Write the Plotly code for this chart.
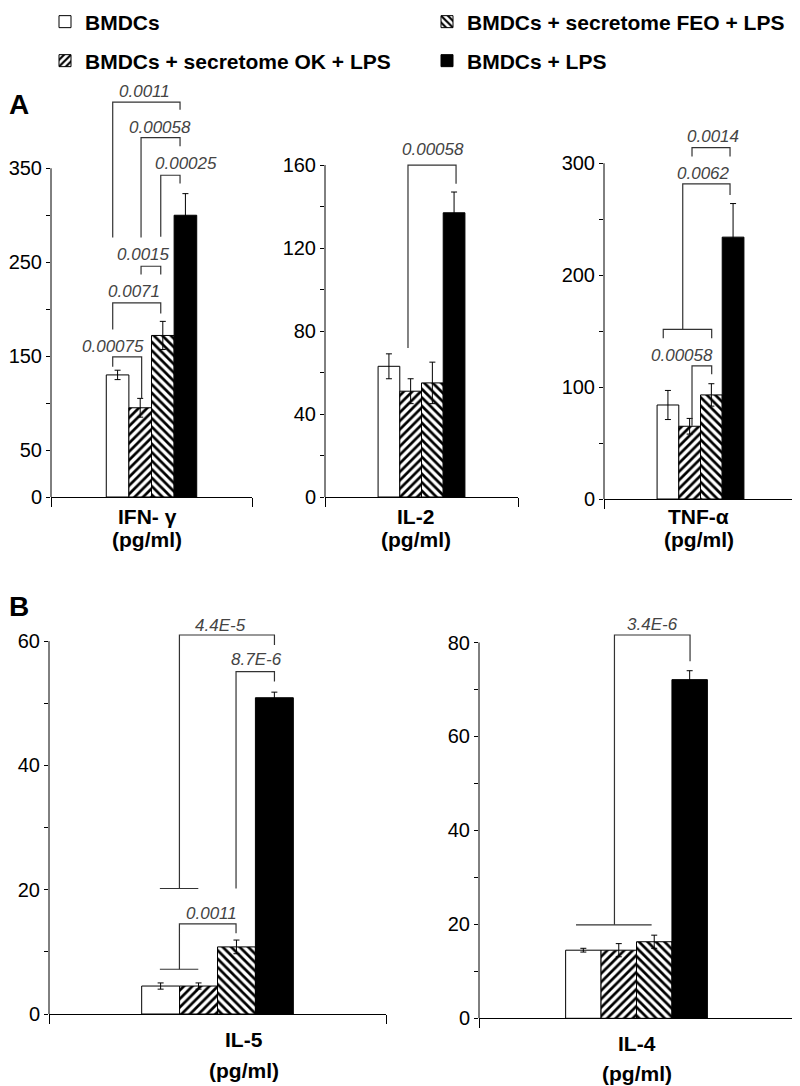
import plotly.graph_objects as go

# The page body has an 8px margin, so the figure is sized to fill the rest of the window
OFF = 8
W, H = 800 - OFF, 1086 - OFF
FONT = "Liberation Sans, Arial, sans-serif"

# ---------------- data ----------------
categories = ["IFN- γ", "IL-2", "TNF-α", "IL-5", "IL-4"]
unit_label = "(pg/ml)"
series_names = ["BMDCs", "BMDCs + secretome OK + LPS",
                "BMDCs + secretome FEO + LPS", "BMDCs + LPS"]
bmdcs = [130, 63, 84, 4.5, 14.5]
bmdcs_err = [5, 6, 13, 0.5, 0.4]
ok_lps = [95, 51, 65, 4.5, 14.5]
ok_err = [10, 6, 7, 0.5, 1.4]
feo_lps = [172, 55, 93, 10.8, 16.3]
feo_err = [15, 10, 10, 1.1, 1.4]
lps = [300, 137, 234, 50.9, 72.1]
lps_err = [23, 10, 30, 0.9, 1.9]

y_tick_step = [50, 20, 50, 10, 10]
y_tick_max = [350, 160, 300, 60, 80]
y_tick_labelled = [[0, 50, 150, 250, 350], [0, 40, 80, 120, 160],
                   [0, 100, 200, 300], [0, 20, 40, 60], [0, 20, 40, 60, 80]]

# significance brackets: (x_left, x_right, y_left_end, y_right_end, y_top, p, label_x, label_y)
brackets = [
    [(-0.193, -0.049, 138.6, 105.0, 149.3, "0.00075", -0.194, 160.6),
     (-0.193, 0.046, 178.4, 195.4, 206.7, "0.0071", -0.089, 218.4),
     (-0.052, 0.046, 236.9, 236.9, 245.7, "0.0015", -0.039, 258.5),
     (0.046, 0.142, 277.0, 333.7, 342.6, "0.00025", 0.170, 355.0),
     (-0.052, 0.142, 276.3, 373.4, 382.7, "0.00058", 0.041, 392.9),
     (-0.193, 0.142, 276.3, 412.4, 420.5, "0.0011", -0.037, 432.2)],
    [(-0.070, 0.179, 71.8, 151.0, 160.0, "0.00058", 0.060, 167.7)],
    [(-0.044, 0.058, 65.5, 111.4, 118.9, "0.00058", -0.097, 128.4),
     (-0.092, 0.153, 151.6, 271.7, 281.5, "0.0062", 0.013, 290.5),
     (-0.044, 0.153, 306.0, 306.0, 314.0, "0.0014", 0.063, 323.8)],
    [(-0.113, 0.169, 20.2, 59.4, 61.0, "4.4E-5", 0.010, 62.6),
     (0.055, 0.169, 20.2, 53.5, 55.1, "8.7E-6", 0.117, 57.0),
     (-0.113, 0.055, 7.2, 13.0, 14.5, "0.0011", -0.019, 16.2)],
    [(-0.070, 0.170, 19.9, 76.0, 81.6, "3.4E-6", 0.052, 83.8)],
]
# pooled-group base lines: (x0, x1, y, end-drop)
group_lines = [
    [],
    [],
    [(-0.193, 0.058, 151.6, 8.0)],
    [(-0.171, -0.057, 20.2, 0.0), (-0.171, -0.057, 7.2, 0.0)],
    [(-0.192, 0.048, 19.9, 0.0)],
]

# ---------------- layout geometry (window pixels) ----------------
x_px = [(51, 252), (325, 518), (604, 797), (49, 386), (479, 794)]
y_px = [(80, 497), (80, 497), (80, 499), (612, 1014), (612, 1018.3)]
y_range_max = [444, 201, 374.4, 64.7, 86.5]
label_x = [-0.022, -0.03, -0.008, 0.08, 0.0]
label_y_px = [(516, 540), (516, 540), (516, 540), (1039, 1070), (1043, 1073)]


def px_x(p):
    return (p - OFF) / W


def px_y(p):
    return 1 - (p - OFF) / H


series_vals = [bmdcs, ok_lps, feo_lps, lps]
series_errs = [bmdcs_err, ok_err, feo_err, lps_err]
series_fill = ["white", "white", "white", "black"]
series_shape = ["", "/", "\\", ""]
legend_ids = ["legend", "legend3", "legend2", "legend4"]

fig = go.Figure()

for i in range(len(categories)):
    xa = "x" if i == 0 else f"x{i+1}"
    ya = "y" if i == 0 else f"y{i+1}"
    for s in range(4):
        pat = dict(shape=series_shape[s], fgcolor="black", bgcolor="white",
                   size=6, solidity=0.45) if series_shape[s] else dict(shape="")
        fig.add_trace(go.Bar(
            x=[0], y=[series_vals[s][i]], name=series_names[s],
            xaxis=xa, yaxis=ya,
            marker=dict(color=series_fill[s], line=dict(color="black", width=1),
                        pattern=pat),
            error_y=dict(type="data", array=[series_errs[s][i]], color="black",
                         thickness=1, width=3),
            showlegend=(i == 0), legend=legend_ids[s],
            legendgroup=series_names[s],
        ))

layout = dict(
    width=W, height=H, template="none",
    margin=dict(l=0, r=0, t=0, b=0, autoexpand=False),
    paper_bgcolor="white", plot_bgcolor="rgba(0,0,0,0)",
    barmode="group", bargap=0.55, bargroupgap=0,
    font=dict(family=FONT, color="black", size=20),
    showlegend=True,
)

shapes = []
annotations = []
for i in range(len(categories)):
    sfx = "" if i == 0 else str(i + 1)
    xa = "x" + sfx
    ya = "y" + sfx
    (xl, xr) = x_px[i]
    (yt, yb) = y_px[i]
    layout["xaxis" + sfx] = dict(
        domain=[px_x(xl), px_x(xr)], range=[-0.5, 0.5], anchor=ya,
        showline=True, linecolor="black", linewidth=1,
        ticks="outside", tickvals=[-0.5, 0.5], ticklen=9, tickcolor="black",
        showticklabels=False, showgrid=False, zeroline=False, fixedrange=True,
    )
    tv = list(range(0, y_tick_max[i] + 1, y_tick_step[i]))
    tt = [str(v) if v in y_tick_labelled[i] else "" for v in tv]
    layout["yaxis" + sfx] = dict(
        domain=[px_y(yb), px_y(yt)], range=[0, y_range_max[i]], anchor=xa,
        showline=False, ticks="outside", ticklen=4, tickcolor="black",
        tickvals=tv, ticktext=tt, tickfont=dict(size=20, family=FONT),
        showgrid=False, zeroline=False, fixedrange=True,
    )
    # y-axis line stopping at the top tick
    shapes.append(dict(type="line", xref=xa + " domain", yref=ya,
                       x0=0, x1=0, y0=0, y1=y_tick_max[i],
                       line=dict(color="black", width=1)))
    for (x0, x1, yl, yr, ytop, p, lx, ly) in brackets[i]:
        shapes.append(dict(type="path", xref=xa, yref=ya,
                           path=f"M{x0},{yl} L{x0},{ytop} L{x1},{ytop} L{x1},{yr}",
                           line=dict(color="#333333", width=1.2)))
        annotations.append(dict(x=lx, y=ly, xref=xa, yref=ya, text=p,
                                showarrow=False, xanchor="center", yanchor="middle",
                                font=dict(size=17, color="#444444", family=FONT,
                                          style="italic")))
    for (x0, x1, yy, drop) in group_lines[i]:
        if drop > 0:
            path = f"M{x0},{yy - drop} L{x0},{yy} L{x1},{yy} L{x1},{yy - drop}"
        else:
            path = f"M{x0},{yy} L{x1},{yy}"
        shapes.append(dict(type="path", xref=xa, yref=ya, path=path,
                           line=dict(color="#333333", width=1.2)))
    # category label
    annotations.append(dict(x=label_x[i], y=px_y(label_y_px[i][0]), xref=xa, yref="paper",
                            text=categories[i], showarrow=False, xanchor="center",
                            yanchor="middle",
                            font=dict(size=21, family=FONT, weight="bold")))
    annotations.append(dict(x=label_x[i], y=px_y(label_y_px[i][1]), xref=xa, yref="paper",
                            text=unit_label, showarrow=False, xanchor="center",
                            yanchor="middle",
                            font=dict(size=21, family=FONT, weight="bold")))

# panel letters
annotations.append(dict(x=px_x(7), y=px_y(104), xref="paper", yref="paper", text="A",
                        showarrow=False, xanchor="left", yanchor="middle",
                        font=dict(size=28, family=FONT, weight="bold")))
annotations.append(dict(x=px_x(7), y=px_y(606), xref="paper", yref="paper", text="B",
                        showarrow=False, xanchor="left", yanchor="middle",
                        font=dict(size=28, family=FONT, weight="bold")))

leg_font = dict(size=21, family=FONT, weight="bold", color="black")
# (left of legend box, vertical centre) in window pixels
leg_pos = {"legend": (45, 22), "legend2": (427, 22), "legend3": (45, 61), "legend4": (427, 61)}
for k, (lx, ly) in leg_pos.items():
    layout[k] = dict(x=px_x(lx), y=px_y(ly), xanchor="left", yanchor="middle",
                     bgcolor="rgba(0,0,0,0)", borderwidth=0, font=leg_font,
                     orientation="v")

layout["shapes"] = shapes
layout["annotations"] = annotations
fig.update_layout(**layout)

fig.write_html("out.html")
